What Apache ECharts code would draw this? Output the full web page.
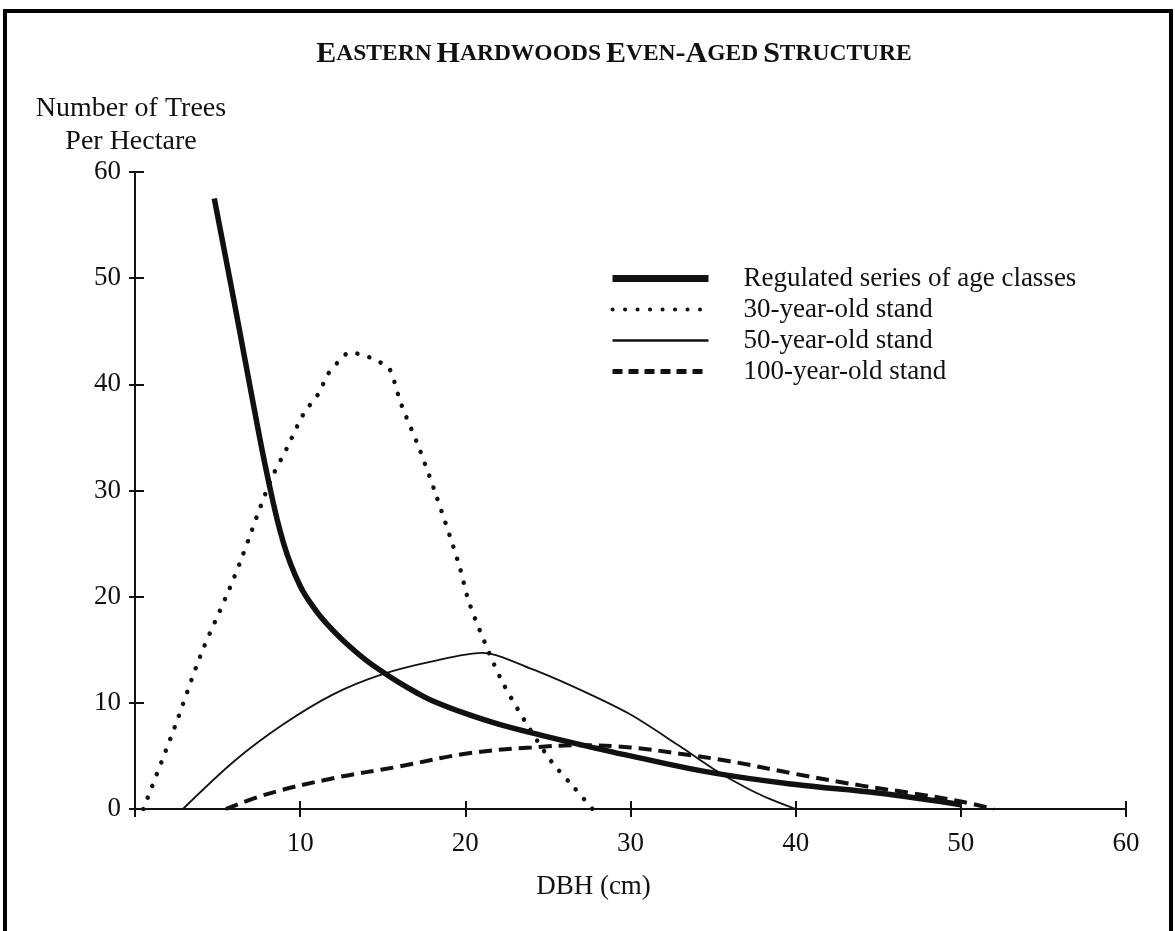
<!DOCTYPE html>
<html>
<head>
<meta charset="utf-8">
<script src="https://cdn.jsdelivr.net/npm/echarts@6/dist/echarts.min.js"></script>
<style>
  html, body { margin: 0; padding: 0; background: #fff; }
  #chart { width: 1175px; height: 931px; }
  #frame { position: absolute; left: 3px; top: 9px; width: 1162px; height: 940px;
           border: 4px solid #000; pointer-events: none; }
</style>
</head>
<body>
<div id="chart"></div>
<div id="frame"></div>
<script>
// ---- data ----
const seriesNames = ['Regulated series of age classes', '30-year-old stand', '50-year-old stand', '100-year-old stand'];

const regulatedX = [4.8, 6, 7, 8, 9, 10, 11, 12, 13, 14, 15, 16, 17, 18, 20, 22, 25, 28, 30, 35, 40, 45, 50];
const regulatedY = [57.5, 47.8, 39.5, 31.5, 25, 21, 18.6, 16.8, 15.3, 14.0, 12.9, 11.9, 11.0, 10.2, 9.0, 8.0, 6.8, 5.7, 5.0, 3.4, 2.3, 1.5, 0.4];

const stand30X = [0.5, 2.4, 4.0, 5.6, 6.4, 8.2, 9.2, 10.2, 11.1, 11.7, 12.3, 13.0, 14.1, 14.8, 15.4, 16.1, 17.2, 18.2, 19.6, 20.2, 21.2, 22.2, 23.6, 25.2, 26.6, 27.7];
const stand30Y = [0, 7.7, 14.6, 20.3, 23.4, 30.9, 34.0, 37.2, 39.1, 41.0, 42.1, 43.0, 42.6, 42.1, 41.5, 38.2, 34.0, 29.7, 23.1, 19.6, 15.6, 12.1, 8.3, 4.5, 2.0, 0];

const stand50X = [2.9, 6, 9, 12, 15, 18, 21, 24, 27, 30, 33, 35, 37, 38.5, 40];
const stand50Y = [0, 4.5, 8.0, 10.8, 12.7, 13.9, 14.7, 13.2, 11.2, 8.9, 5.9, 3.8, 2.0, 0.9, 0];

const stand100X = [5.5, 8, 12, 16, 20, 24, 27, 30, 33, 36, 40, 44, 47, 50, 52];
const stand100Y = [0, 1.4, 2.9, 4.0, 5.2, 5.8, 6.0, 5.8, 5.2, 4.5, 3.3, 2.2, 1.5, 0.7, 0];

const xTicks = [0, 10, 20, 30, 40, 50, 60];
const yTicks = [0, 10, 20, 30, 40, 50, 60];

// ---- build ----
const zip = (xs, ys) => xs.map((x, i) => [x, ys[i]]);
const FONT = '"Liberation Serif", "DejaVu Serif", serif';
const INK = '#111';

const chart = echarts.init(document.getElementById('chart'), null, { renderer: 'canvas' });

const baseX = {
  type: 'value', min: 0, max: 60, interval: 10,
  splitLine: { show: false },
  axisLine: { show: true, onZero: false, lineStyle: { color: INK, width: 2 } }
};
const baseY = {
  type: 'value', min: 0, max: 60, interval: 10,
  splitLine: { show: false },
  axisLine: { show: true, onZero: false, lineStyle: { color: INK, width: 2 } }
};

chart.setOption({
  backgroundColor: '#fff',
  animation: false,
  color: [INK, INK, INK, INK],
  title: {
    left: 609, top: 34, textAlign: 'center',
    text: '{b|E}{s|ASTERN} {b|H}{s|ARDWOODS} {b|E}{s|VEN}{b|-A}{s|GED} {b|S}{s|TRUCTURE}',
    textStyle: {
      rich: {
        b: { fontFamily: FONT, fontSize: 30, color: INK },
        s: { fontFamily: FONT, fontSize: 23.5, color: INK }
      }
    }
  },
  legend: {
    orient: 'vertical', left: 609, top: 265, padding: 0,
    itemWidth: 96, itemHeight: 27, itemGap: 4,
    itemStyle: { opacity: 0 },
    textStyle: { fontFamily: FONT, fontSize: 27, color: INK, padding: [0, 0, 0, 30] },
    data: [
      { name: seriesNames[0], lineStyle: { width: 7 } },
      { name: seriesNames[1], lineStyle: { width: 4, type: [0.1, 12.4] } },
      { name: seriesNames[2], lineStyle: { width: 2.5 } },
      { name: seriesNames[3], lineStyle: { width: 5, type: [10, 6] } }
    ]
  },
  grid: { left: 135, right: 49, top: 172, bottom: 122, containLabel: false },
  xAxis: [
    Object.assign({}, baseX, {
      name: 'DBH (cm)', nameLocation: 'middle', nameGap: 64,
      nameTextStyle: { fontFamily: FONT, fontSize: 27, color: INK, padding: [0, 74, 0, 0] },
      axisTick: { show: true, inside: false, length: 8, lineStyle: { color: INK, width: 2 } },
      axisLabel: {
        margin: 21, fontFamily: FONT, fontSize: 27, color: INK,
        formatter: v => (xTicks.indexOf(v) > 0 ? String(v) : '')
      }
    }),
    Object.assign({}, baseX, {
      position: 'bottom',
      axisLine: { show: false },
      axisTick: { show: true, inside: true, length: 8, lineStyle: { color: INK, width: 2 } },
      axisLabel: { show: false }
    })
  ],
  yAxis: [
    Object.assign({}, baseY, {
      name: 'Number of Trees\nPer Hectare', nameLocation: 'end', nameGap: 14,
      nameTextStyle: { fontFamily: FONT, fontSize: 28, lineHeight: 33, color: INK, align: 'center', padding: [0, 0, 0, -8] },
      axisTick: { show: true, inside: false, length: 6, lineStyle: { color: INK, width: 2 } },
      axisLabel: {
        margin: 14, fontFamily: FONT, fontSize: 27, color: INK,
        formatter: v => (yTicks.indexOf(v) >= 0 ? String(v) : '')
      }
    }),
    Object.assign({}, baseY, {
      position: 'left',
      axisLine: { show: false },
      axisTick: { show: true, inside: true, length: 9, lineStyle: { color: INK, width: 2 } },
      axisLabel: { show: false }
    })
  ],
  series: [
    {
      name: seriesNames[0], type: 'line', xAxisIndex: 0, yAxisIndex: 0,
      data: zip(regulatedX, regulatedY), smooth: 0.4, symbol: 'none',
      itemStyle: { color: INK },
      lineStyle: { color: INK, width: 5.5 }, z: 5
    },
    {
      name: seriesNames[1], type: 'line', xAxisIndex: 0, yAxisIndex: 0,
      data: zip(stand30X, stand30Y), smooth: 0.3, symbol: 'none',
      itemStyle: { color: INK },
      lineStyle: { color: INK, width: 4.5, type: [0.1, 12.4], cap: 'round' }, z: 4
    },
    {
      name: seriesNames[2], type: 'line', xAxisIndex: 0, yAxisIndex: 0,
      data: zip(stand50X, stand50Y), smooth: 0.3, symbol: 'none',
      itemStyle: { color: INK },
      lineStyle: { color: INK, width: 1.8 }, z: 3
    },
    {
      name: seriesNames[3], type: 'line', xAxisIndex: 0, yAxisIndex: 0,
      data: zip(stand100X, stand100Y), smooth: 0.4, symbol: 'none',
      itemStyle: { color: INK },
      lineStyle: { color: INK, width: 4, type: [13, 7] }, z: 4
    }
  ]
});
</script>
</body>
</html>
